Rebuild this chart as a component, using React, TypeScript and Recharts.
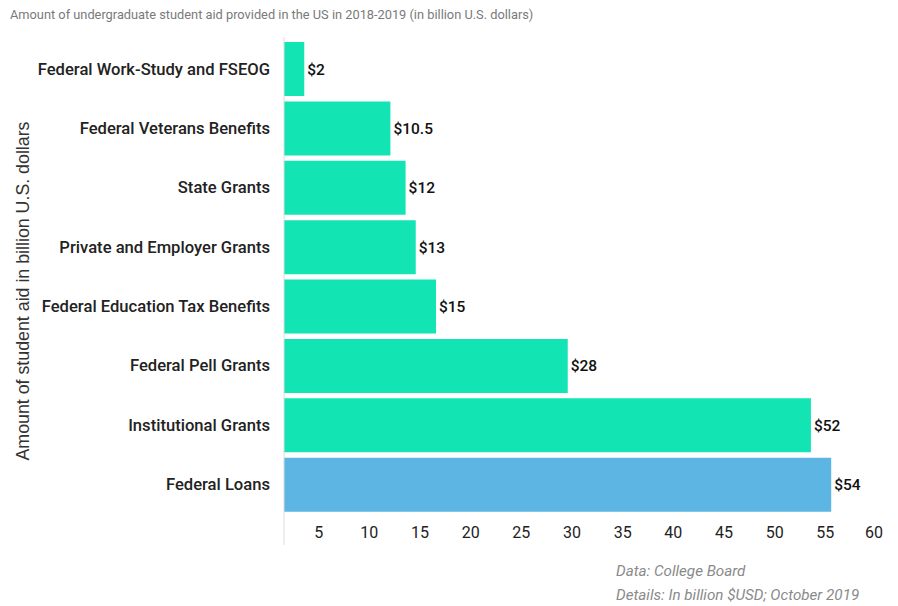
import { Bar, BarChart, Cell, LabelList, XAxis, YAxis } from "recharts";

const categories = [
  "Federal Work-Study and FSEOG",
  "Federal Veterans Benefits",
  "State Grants",
  "Private and Employer Grants",
  "Federal Education Tax Benefits",
  "Federal Pell Grants",
  "Institutional Grants",
  "Federal Loans",
];
const amounts = [2, 10.5, 12, 13, 15, 28, 52, 54];
const barColors = ["#13e4b4", "#13e4b4", "#13e4b4", "#13e4b4", "#13e4b4", "#13e4b4", "#13e4b4", "#5db5e3"];
const xTicks = [5, 10, 15, 20, 25, 30, 35, 40, 45, 50, 55, 60];

const data = categories.map((name, i) => ({ name, amount: amounts[i] }));

const FONT = "Roboto, 'Noto Sans', sans-serif";

const XTick = ({ x, y, payload }: any) => (
  <text x={x - 16} y={y - 7} textAnchor="middle" fill="#222" fontSize={16} fontFamily={FONT}>
    {payload.value}
  </text>
);

const YLabel = ({ viewBox }: any) => {
  const cx = viewBox.x + 23;
  const cy = viewBox.y + viewBox.height / 2;
  return (
    <text
      transform={`translate(${cx},${cy}) rotate(-90)`}
      textAnchor="middle"
      dominantBaseline="central"
      fill="#333"
      fontSize={17.8}
      fontFamily="'Liberation Sans', Arial, sans-serif"
    >
      Amount of student aid in billion U.S. dollars
    </text>
  );
};

export default function App() {
  return (
    <div style={{ position: "absolute", left: 0, top: 0, width: 898, height: 606, background: "#fff" }}>
      <div
        style={{
          position: "absolute",
          left: 10,
          top: 7,
          fontFamily: FONT,
          fontSize: 12.8,
          color: "#7a7a7a",
          whiteSpace: "nowrap",
        }}
      >
        Amount of undergraduate student aid provided in the US in 2018-2019 (in billion U.S. dollars)
      </div>
      <BarChart
        width={898}
        height={606}
        data={data}
        layout="vertical"
        margin={{ top: 37, right: 6, bottom: 31, left: 0 }}
      >
        <XAxis
          type="number"
          domain={[0, 60]}
          ticks={xTicks}
          axisLine={false}
          tickLine={false}
          tickSize={0}
          tickMargin={0}
          tick={<XTick />}
          height={30}
        />
        <YAxis
          type="category"
          dataKey="name"
          width={284}
          axisLine={{ stroke: "#ddd" }}
          tickLine={false}
          tickSize={0}
          tickMargin={14}
          padding={{ top: 2, bottom: 31 }}
          tick={{ fill: "#222", fontSize: 16.6, fontWeight: 500, fontFamily: FONT }}
          interval={0}
          label={<YLabel />}
        />
        <Bar dataKey="amount" barSize={54} isAnimationActive={false}>
          {data.map((d, i) => (
            <Cell key={d.name} fill={barColors[i]} />
          ))}
          <LabelList
            dataKey="amount"
            position="right"
            offset={3}
            formatter={(v: any) => `$${v}`}
            fill="#111"
            fontSize={15.5}
            fontWeight={500}
            fontFamily={FONT}
          />
        </Bar>
      </BarChart>
      <div
        style={{
          position: "absolute",
          left: 616,
          top: 559,
          fontFamily: FONT,
          fontStyle: "italic",
          fontSize: 15.2,
          lineHeight: "24px",
          color: "#8a8a8a",
          whiteSpace: "nowrap",
        }}
      >
        <div>Data: College Board</div>
        <div>Details: In billion $USD; October 2019</div>
      </div>
    </div>
  );
}
